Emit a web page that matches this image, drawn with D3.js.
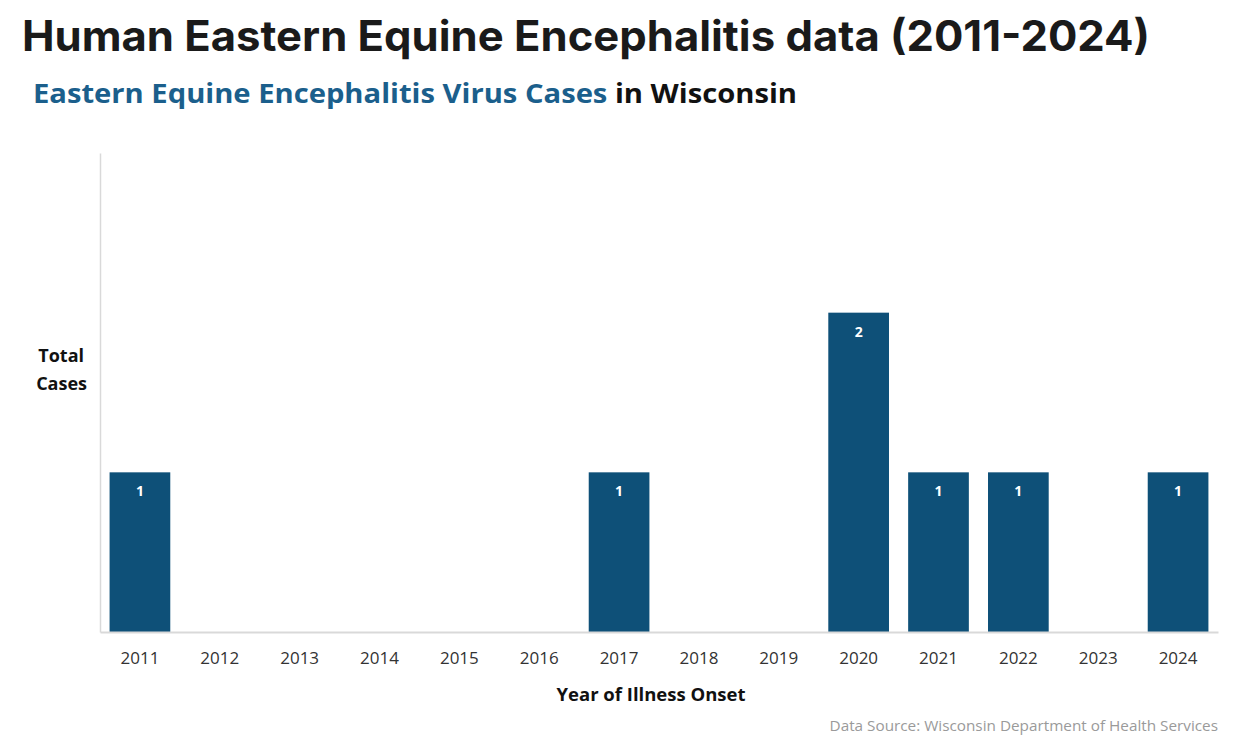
<!DOCTYPE html>
<html>
<head>
<meta charset="utf-8">
<script src="https://cdn.jsdelivr.net/npm/d3@7"></script>
<style>
  body { margin: 0; background: #fff; }
  svg text { font-family: "Open Sans", "Noto Sans", sans-serif; }
</style>
</head>
<body>
<div id="contenedor"></div>
<script>
// datos
var years = ["2011","2012","2013","2014","2015","2016","2017","2018","2019","2020","2021","2022","2023","2024"]
var cases = [1,0,0,0,0,0,1,0,0,2,1,1,0,1]

var ancho = 1252
var alto = 744

var svg = d3.select("#contenedor")
    .append("svg")
    .attr("width", ancho)
    .attr("height", alto)

// titulo
svg.append("text")
    .attr("x", 22)
    .attr("y", 51)
    .style("font-family", "Inter, Roboto, sans-serif")
    .style("font-weight", 700)
    .style("font-size", "42px")
    .attr("fill", "#1a1a1a")
    .attr("textLength", 1128)
    .attr("lengthAdjust", "spacingAndGlyphs")
    .text("Human Eastern Equine Encephalitis data (2011-2024)")

var sub = svg.append("text")
    .attr("x", 33)
    .attr("y", 103)
    .style("font-weight", 700)
    .style("font-size", "26px")
    .attr("textLength", 764)
    .attr("lengthAdjust", "spacingAndGlyphs")
sub.append("tspan").attr("fill", "#1b5f8c").text("Eastern Equine Encephalitis Virus Cases ")
sub.append("tspan").attr("fill", "#111").text("in Wisconsin")

// escalas
var x = d3.scaleBand()
    .domain(years)
    .range([100, 1218])
    .paddingInner(0.24)
    .paddingOuter(0.12)

var y = d3.scaleLinear()
    .domain([0, 3])
    .range([632, 153])

// barras
var datos = years.map(function(d, i) { return {year: d, value: cases[i]} })

svg.selectAll("rect.bar")
    .data(datos.filter(function(d) { return d.value > 0 }))
    .enter()
    .append("rect")
    .attr("class", "bar")
    .attr("x", function(d) { return x(d.year) })
    .attr("y", function(d) { return y(d.value) })
    .attr("width", x.bandwidth())
    .attr("height", function(d) { return y(0) - y(d.value) })
    .attr("fill", "#0e5078")

svg.selectAll("text.etiqueta")
    .data(datos.filter(function(d) { return d.value > 0 }))
    .enter()
    .append("text")
    .attr("class", "etiqueta")
    .attr("x", function(d) { return x(d.year) + x.bandwidth() / 2 })
    .attr("y", function(d) { return y(d.value) + 24 })
    .attr("text-anchor", "middle")
    .attr("fill", "#fff")
    .style("font-weight", 700)
    .style("font-size", "14px")
    .text(function(d) { return d.value })

// ejes
var ejeX = d3.axisBottom(x).tickSize(0).tickPadding(20)
var gx = svg.append("g")
    .attr("transform", "translate(0," + y(0) + ")")
    .call(ejeX)
gx.select(".domain").attr("stroke", "#d9d9d9").attr("stroke-width", 2)
gx.selectAll("text")
    .attr("fill", "#333")
    .style("font-family", "'Open Sans', sans-serif")
    .style("font-size", "17px")

var ejeY = d3.axisLeft(y).tickSize(0).tickValues([])
var gy = svg.append("g")
    .attr("transform", "translate(100,0)")
    .call(ejeY)
gy.select(".domain").attr("stroke", "#d9d9d9").attr("stroke-width", 1.5)

// titulos de ejes
svg.append("text")
    .attr("x", 651)
    .attr("y", 701)
    .attr("text-anchor", "middle")
    .attr("fill", "#111")
    .style("font-weight", 700)
    .style("font-size", "18.5px")
    .text("Year of Illness Onset")

var yt = svg.append("text")
    .attr("text-anchor", "end")
    .attr("fill", "#111")
    .style("font-weight", 700)
    .style("font-size", "18px")
yt.append("tspan").attr("x", 84).attr("y", 362).text("Total")
yt.append("tspan").attr("x", 87).attr("y", 390).text("Cases")

svg.append("text")
    .attr("x", 1218)
    .attr("y", 731)
    .attr("text-anchor", "end")
    .attr("fill", "#9a9a9a")
    .style("font-size", "15.3px")
    .text("Data Source: Wisconsin Department of Health Services")
</script>
</body>
</html>
